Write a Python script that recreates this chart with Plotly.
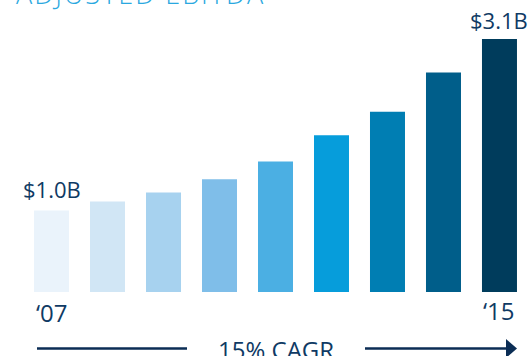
import plotly.graph_objects as go

years = ["'07", "'08", "'09", "'10", "'11", "'12", "'13", "'14", "'15"]
ebitda_b = [1.0, 1.11, 1.22, 1.38, 1.6, 1.92, 2.21, 2.69, 3.1]
bar_colors = ["#EAF3FB", "#D1E6F5", "#A7D2EF", "#7FBEE9", "#4BAFE3",
              "#069DDB", "#007EB3", "#005E8A", "#003C5C"]
first_label = "$1.0B"
last_label = "$3.1B"
first_year = "\u201807"
last_year = "\u201815"
cagr_text = "15% CAGR"
title_text = "ADJUSTED EBITDA"

W, H = 530, 356
T, B = 39, 64
TEXT = "#0F3A64"
NAVY = "#0B2D55"
FONT = "Open Sans"

def py(px):
    return (H - B - px) / (H - T - B)

def pxx(px):
    return px / W

xs = list(range(len(years)))
fig = go.Figure(go.Bar(x=xs, y=ebitda_b, marker=dict(color=bar_colors, line=dict(width=0)),
                       width=0.625, hoverinfo="skip"))

ann = []
ann.append(dict(x=0, y=ebitda_b[0], xref="x", yref="y", text=first_label, showarrow=False,
                yanchor="bottom", yshift=4, font=dict(family=FONT, size=22, color=TEXT)))
ann.append(dict(x=8, y=ebitda_b[-1], xref="x", yref="y", text=last_label, showarrow=False,
                yanchor="bottom", yshift=2, font=dict(family=FONT, size=22, color=TEXT)))
ann.append(dict(x=0, y=py(312.5), xref="x", yref="paper", text=first_year, showarrow=False,
                yanchor="middle", font=dict(family=FONT, size=24, color=TEXT)))
ann.append(dict(x=8, y=py(310.5), xref="x", yref="paper", text=last_year, showarrow=False,
                yanchor="middle", font=dict(family=FONT, size=24, color=TEXT)))
ann.append(dict(x=pxx(276), y=py(349.5), xref="paper", yref="paper", text=cagr_text, showarrow=False,
                xanchor="center", yanchor="middle", font=dict(family=FONT, size=24, color=TEXT)))
ann.append(dict(x=pxx(14), y=py(-6), xref="paper", yref="paper",
                text='<span style="letter-spacing:2px">' + title_text + "</span>",
                showarrow=False, xanchor="left", yanchor="middle",
                font=dict(family=FONT, size=27, color="#2AA8E0", weight=300)))

shapes = [
    dict(type="line", xref="paper", yref="paper", x0=pxx(37), x1=pxx(187), y0=py(348.5), y1=py(348.5),
         line=dict(color=NAVY, width=2.5)),
    dict(type="line", xref="paper", yref="paper", x0=pxx(365), x1=pxx(509), y0=py(348.5), y1=py(348.5),
         line=dict(color=NAVY, width=2.5)),
    dict(type="path", xref="paper", yref="paper",
         path=f"M {pxx(506)},{py(339)} L {pxx(517)},{py(348.5)} L {pxx(506)},{py(358)} Z",
         fillcolor=NAVY, line=dict(width=0)),
]

fig.update_layout(
    width=W, height=H, margin=dict(l=0, r=0, t=T, b=B),
    paper_bgcolor="white", plot_bgcolor="white", showlegend=False,
    xaxis=dict(range=[-0.92, 8.545], visible=False, fixedrange=True),
    yaxis=dict(range=[0, 3.1], visible=False, fixedrange=True),
    annotations=ann, shapes=shapes,
)
fig.write_html("out.html", config={"displayModeBar": False},
               post_script="document.body.style.margin='0';document.body.style.overflow='hidden';")
